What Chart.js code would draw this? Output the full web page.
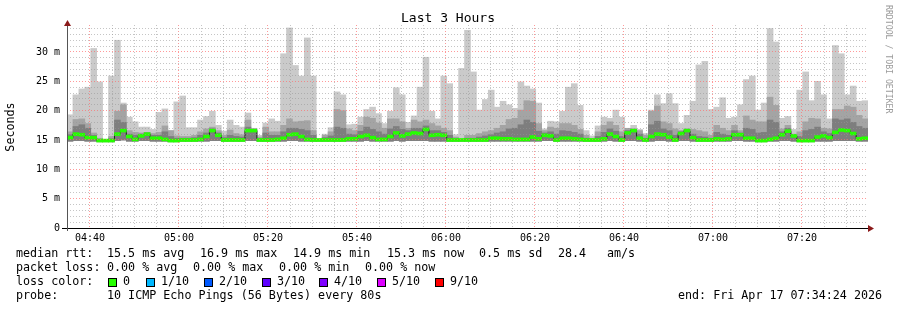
<!DOCTYPE html>
<html>
<head>
<meta charset="utf-8">
<title>Last 3 Hours</title>
<script src="https://cdn.jsdelivr.net/npm/chart.js@4"></script>
<style>
  html, body { margin: 0; padding: 0; background: #fff; }
</style>
</head>
<body>
<canvas id="smoke" width="897" height="310"></canvas>
<script>
// 135 bins of 80 s, first bin starts 04:34:50
const startMinute = 4 * 60 + 34 + 50 / 60;
const stepMinutes = 80 / 60;

// smoke: outermost ping (max), 2nd and 3rd highest pings, lowest ping, median (ms)
const maxMs = [
  19.3, 22.7, 23.7, 24.0, 30.6, 24.9, 15.1, 25.9, 32.0, 21.3,
  18.9, 18.1, 17.2, 17.2, 16.8, 19.7, 20.3, 16.6, 21.5, 22.5,
  17.1, 17.1, 18.4, 19.0, 19.9, 17.5, 16.5, 18.4, 17.5, 17.2,
  19.6, 17.0, 15.8, 17.9, 18.6, 18.2, 29.7, 34.1, 27.7, 25.9,
  32.4, 25.9, 15.2, 16.0, 17.1, 23.2, 22.7, 17.6, 17.7, 18.9,
  20.2, 20.6, 19.5, 17.8, 19.9, 23.9, 22.7, 18.0, 19.1, 24.0,
  29.1, 19.9, 18.6, 25.9, 24.6, 15.9, 27.2, 33.7, 26.6, 20.1,
  21.9, 23.5, 20.6, 21.6, 21.0, 20.4, 24.9, 24.2, 23.7, 21.3,
  16.9, 18.2, 18.1, 19.9, 24.0, 24.6, 20.9, 16.6, 15.7, 17.4,
  18.9, 18.7, 20.1, 18.9, 16.8, 17.5, 16.8, 16.1, 20.1, 22.7,
  21.2, 22.9, 21.2, 17.8, 19.2, 21.6, 27.8, 28.4, 20.2, 20.6,
  22.2, 18.7, 18.9, 21.0, 25.3, 25.9, 20.1, 21.3, 34.0, 31.7,
  18.7, 19.0, 16.8, 23.5, 26.6, 21.7, 25.0, 22.7, 18.6, 31.1,
  29.7, 22.7, 24.2, 21.6, 21.7
];
const p8Ms = [
  16.4, 18.5, 18.6, 17.8, 16.2, 15.3, 15.0, 15.6, 19.9, 21.0,
  16.6, 16.3, 16.2, 16.3, 16.1, 16.3, 17.4, 16.6, 15.7, 15.6,
  15.6, 15.8, 16.4, 16.9, 17.2, 16.6, 15.8, 16.7, 16.1, 15.9,
  18.4, 16.9, 15.5, 17.2, 16.4, 16.4, 17.5, 18.6, 18.1, 18.2,
  18.3, 16.6, 15.2, 15.8, 16.4, 20.2, 20.0, 16.9, 16.6, 17.5,
  18.9, 18.7, 17.9, 17.0, 18.6, 18.6, 18.1, 17.0, 18.4, 18.1,
  18.4, 17.8, 17.4, 17.0, 16.6, 15.5, 15.2, 15.8, 15.8, 16.1,
  16.4, 16.6, 17.0, 17.5, 18.5, 18.7, 20.1, 21.7, 21.6, 17.8,
  16.6, 17.2, 17.0, 17.8, 17.8, 17.5, 16.8, 15.8, 15.3, 16.4,
  17.5, 18.1, 17.5, 16.4, 17.0, 16.9, 16.6, 15.8, 19.9, 20.8,
  18.1, 17.8, 16.9, 16.6, 16.9, 16.8, 16.6, 16.4, 15.8, 17.5,
  17.0, 16.6, 17.5, 16.6, 19.1, 18.4, 18.1, 18.1, 22.3, 20.9,
  16.9, 17.5, 16.0, 16.4, 18.1, 18.7, 18.6, 17.0, 16.9, 20.2,
  20.2, 20.8, 20.6, 19.2, 18.6
];
const p7Ms = [
  15.9, 17.3, 17.6, 17.0, 15.8, 15.1, 14.95, 15.2, 18.4, 18.0,
  16.0, 15.8, 16.0, 16.2, 15.8, 15.8, 16.4, 15.6, 15.3, 15.3,
  15.3, 15.4, 15.8, 16.2, 16.9, 16.2, 15.4, 15.8, 15.6, 15.5,
  17.2, 16.7, 15.2, 16.2, 15.8, 15.8, 16.4, 17.0, 17.0, 16.8,
  16.6, 15.8, 15.1, 15.4, 15.7, 17.2, 17.0, 16.0, 15.9, 16.5,
  17.2, 16.8, 16.4, 16.0, 16.9, 17.3, 16.8, 16.6, 17.0, 17.0,
  17.4, 16.6, 16.6, 16.3, 15.8, 15.2, 15.1, 15.3, 15.3, 15.5,
  15.7, 15.9, 16.2, 16.4, 16.9, 17.0, 17.6, 18.4, 18.0, 16.5,
  16.2, 16.4, 16.0, 16.6, 16.5, 16.3, 16.0, 15.3, 15.1, 15.6,
  16.3, 16.9, 16.5, 15.6, 16.6, 16.8, 16.0, 15.3, 17.6, 18.2,
  16.9, 16.6, 15.8, 16.4, 16.8, 16.0, 15.6, 15.5, 15.3, 16.3,
  16.0, 15.8, 16.6, 16.2, 17.0, 16.8, 16.2, 16.3, 18.4, 18.0,
  16.4, 17.0, 15.85, 15.6, 16.6, 16.8, 17.2, 16.4, 16.1, 18.6,
  18.4, 18.6, 18.0, 17.3, 17.0
];
const minMs = [
  14.8, 14.9, 14.9, 14.8, 14.8, 14.7, 14.7, 14.7, 14.9, 15.0,
  14.8, 14.8, 14.9, 14.9, 14.8, 14.8, 14.8, 14.7, 14.7, 14.8,
  14.8, 14.8, 14.8, 14.8, 14.9, 14.9, 14.8, 14.8, 14.8, 14.8,
  14.9, 14.9, 14.8, 14.8, 14.8, 14.8, 14.8, 14.9, 14.9, 14.8,
  14.8, 14.8, 14.8, 14.8, 14.8, 14.8, 14.8, 14.8, 14.8, 14.8,
  14.9, 14.8, 14.8, 14.8, 14.8, 14.9, 14.8, 14.9, 14.9, 14.9,
  14.9, 14.8, 14.8, 14.8, 14.8, 14.8, 14.8, 14.8, 14.8, 14.8,
  14.8, 14.8, 14.8, 14.8, 14.8, 14.8, 14.8, 14.8, 14.8, 14.8,
  14.9, 14.9, 14.8, 14.8, 14.8, 14.8, 14.8, 14.8, 14.8, 14.8,
  14.8, 14.9, 14.8, 14.8, 14.9, 14.9, 14.8, 14.8, 14.8, 14.9,
  14.9, 14.8, 14.8, 14.9, 14.9, 14.8, 14.8, 14.8, 14.8, 14.8,
  14.8, 14.8, 14.9, 14.9, 14.8, 14.8, 14.7, 14.7, 14.8, 14.8,
  14.9, 14.9, 14.8, 14.7, 14.7, 14.7, 14.8, 14.8, 14.8, 14.9,
  14.9, 14.9, 14.9, 14.8, 14.8
];
const medianMs = [
  15.4, 16.0, 15.9, 15.4, 15.4, 14.9, 14.9, 14.9, 16.0, 16.6,
  15.6, 15.1, 15.7, 16.0, 15.3, 15.3, 15.1, 14.9, 14.9, 15.0,
  15.0, 15.0, 15.1, 15.6, 16.6, 15.8, 15.0, 15.0, 15.0, 15.0,
  16.6, 16.6, 15.0, 15.0, 15.0, 15.1, 15.3, 15.9, 16.0, 15.6,
  15.1, 15.0, 15.0, 15.0, 15.0, 15.0, 15.0, 15.2, 15.2, 15.6,
  15.8, 15.4, 15.1, 15.1, 15.6, 16.2, 15.7, 16.0, 16.2, 16.1,
  16.8, 15.8, 15.9, 15.8, 15.0, 15.0, 15.0, 15.0, 15.0, 15.0,
  15.0, 15.3, 15.3, 15.2, 15.2, 15.1, 15.1, 15.1, 15.5, 15.2,
  15.8, 15.7, 15.0, 15.3, 15.3, 15.2, 15.1, 15.0, 15.0, 15.0,
  15.2, 16.0, 15.6, 15.0, 16.2, 16.6, 15.3, 15.0, 15.6, 16.0,
  15.9, 15.5, 15.0, 16.1, 16.6, 15.4, 15.0, 15.0, 15.0, 15.2,
  15.1, 15.2, 15.9, 15.9, 15.3, 15.3, 14.9, 14.9, 15.1, 15.3,
  15.9, 16.5, 15.7, 14.9, 14.9, 14.9, 15.5, 15.7, 15.4, 16.3,
  16.7, 16.6, 16.1, 15.2, 15.3
];

const yTicks = Array.from({length: 35}, (_, i) => i);
const xTicks = Array.from({length: 36}, (_, i) => 275 + i * 5);

const lossColors = ['#26ff00', '#00b8ff', '#0059ff', '#5e00ff', '#7e00ff', '#dd00ff', '#ff0000'];
const lossLabels = ['0', '1/10', '2/10', '3/10', '4/10', '5/10', '9/10'];

const binTimes = medianMs.map((_, i) => startMinute + (i + 0.5) * stepMinutes);

const mono = "'DejaVu Sans Mono', monospace";
const minorGrid = 'rgba(150,150,150,0.55)';
const majorGrid = 'rgba(255,110,110,0.7)';

const pad2 = (n) => String(n).padStart(2, '0');
const formatTime = (m) => `${pad2(Math.floor(m / 60))}:${pad2(m % 60)}`;

const band = (lo, hi) => binTimes.map((t, i) => ({x: t, y: [lo[i], hi[i]]}));

const smokeLayer = (hi, color, order) => ({
  type: 'bar',
  data: band(minMs, hi),
  backgroundColor: color,
  borderWidth: 0,
  grouped: false,
  barPercentage: 1,
  categoryPercentage: 1,
  order: order
});

const extras = {
  id: 'extras',
  beforeDraw: (chart) => {
    const ctx = chart.ctx;
    ctx.save();
    ctx.fillStyle = '#fff';
    ctx.fillRect(0, 0, chart.width, chart.height);
    ctx.restore();
  },
  afterDraw: (chart) => {
    const ctx = chart.ctx;
    const area = chart.chartArea;
    ctx.save();

    // axes
    ctx.strokeStyle = '#000';
    ctx.lineWidth = 1;
    ctx.beginPath();
    ctx.moveTo(62, area.bottom + 0.5);
    ctx.lineTo(area.right + 1, area.bottom + 0.5);
    ctx.stroke();
    ctx.strokeStyle = '#555';
    ctx.beginPath();
    ctx.moveTo(area.left + 0.5, area.bottom + 3);
    ctx.lineTo(area.left + 0.5, 24);
    ctx.stroke();

    ctx.fillStyle = '#8b1a1a';
    ctx.beginPath();
    ctx.moveTo(area.right, area.bottom - 3);
    ctx.lineTo(area.right + 6, area.bottom + 0.5);
    ctx.lineTo(area.right, area.bottom + 4);
    ctx.fill();
    ctx.beginPath();
    ctx.moveTo(area.left - 3, 26);
    ctx.lineTo(area.left + 0.5, 20);
    ctx.lineTo(area.left + 4, 26);
    ctx.fill();

    // title
    ctx.fillStyle = '#000';
    ctx.textBaseline = 'middle';
    ctx.textAlign = 'center';
    ctx.font = `13px ${mono}`;
    ctx.fillText('Last 3 Hours', 448, 19);

    // y label
    ctx.save();
    ctx.translate(11, 127);
    ctx.rotate(-Math.PI / 2);
    ctx.font = `11.7px ${mono}`;
    ctx.fillText('Seconds', 0, 0);
    ctx.restore();

    // watermark
    ctx.save();
    ctx.translate(888, 5);
    ctx.rotate(Math.PI / 2);
    ctx.textAlign = 'left';
    ctx.fillStyle = '#9a9a9a';
    ctx.font = `8.2px ${mono}`;
    ctx.fillText('RRDTOOL / TOBI OETIKER', 0, 0);
    ctx.restore();

    // legend
    ctx.textAlign = 'left';
    ctx.font = `11.7px ${mono}`;
    const put = (s, x, y) => ctx.fillText(s, x, y);
    put('median rtt:', 16, 254);
    put('15.5 ms avg', 107, 254);
    put('16.9 ms max', 200, 254);
    put('14.9 ms min', 293, 254);
    put('15.3 ms now', 387, 254);
    put('0.5 ms sd', 479, 254);
    put('28.4', 558, 254);
    put('am/s', 607, 254);

    put('packet loss:', 16, 268);
    put('0.00 % avg', 107, 268);
    put('0.00 % max', 193, 268);
    put('0.00 % min', 279, 268);
    put('0.00 % now', 365, 268);

    put('loss color:', 16, 282);
    const boxX = [108, 146, 204, 262, 319, 377, 435];
    lossColors.forEach((c, i) => {
      ctx.fillStyle = c;
      ctx.fillRect(boxX[i], 278, 9, 9);
      ctx.strokeStyle = '#000';
      ctx.strokeRect(boxX[i] + 0.5, 278.5, 8, 8);
      ctx.fillStyle = '#000';
      put(lossLabels[i], boxX[i] + 15, 282);
    });

    put('probe:', 16, 296);
    put('10 ICMP Echo Pings (56 Bytes) every 80s', 107, 296);
    put('end: Fri Apr 17 07:34:24 2026', 678, 296);

    ctx.restore();
  }
};

Chart.defaults.font.family = mono;

new Chart(document.getElementById('smoke'), {
  data: {
    datasets: [
      smokeLayer(maxMs, '#cacaca', 5),
      smokeLayer(p8Ms, '#a4a4a4', 4),
      smokeLayer(p7Ms, '#7e7e7e', 3),
      {
        type: 'line',
        data: binTimes.map((t, i) => ({x: t, y: medianMs[i]})),
        borderColor: '#202020',
        borderWidth: 1,
        pointRadius: 0,
        stepped: 'middle',
        order: 2
      },
      {
        type: 'bar',
        data: binTimes.map((t, i) => ({x: t, y: [medianMs[i] - 0.25, medianMs[i] + 0.25]})),
        backgroundColor: lossColors[0],
        borderWidth: 0,
        grouped: false,
        barPercentage: 1,
        categoryPercentage: 1,
        order: 1
      }
    ]
  },
  options: {
    responsive: false,
    animation: false,
    layout: {padding: {top: 25, right: 29, left: 0, bottom: 0}},
    plugins: {legend: {display: false}, tooltip: {enabled: false}},
    scales: {
      x: {
        type: 'linear',
        offset: false,
        min: startMinute,
        max: startMinute + medianMs.length * stepMinutes,
        afterBuildTicks: (scale) => { scale.ticks = xTicks.map(v => ({value: v})); },
        afterFit: (scale) => { scale.height = 82; },
        ticks: {
          autoSkip: false,
          maxRotation: 0,
          padding: 4,
          color: '#000',
          font: {size: 10},
          callback: (v) => v % 20 === 0 ? formatTime(v) : ''
        },
        grid: {
          z: 1,
          offset: false,
          drawTicks: false,
          color: (c) => c.tick && c.tick.value % 20 === 0 ? majorGrid : minorGrid
        },
        border: {display: false, dash: [1, 2]}
      },
      y: {
        min: 0,
        max: 34.6,
        afterBuildTicks: (scale) => { scale.ticks = yTicks.map(v => ({value: v})); },
        afterFit: (scale) => { scale.width = 67; },
        ticks: {
          autoSkip: false,
          padding: 7,
          color: '#000',
          font: {size: 10},
          callback: (v) => v % 5 === 0 ? (v === 0 ? '0' : `${v} m`) : ''
        },
        grid: {
          z: 1,
          drawTicks: false,
          color: (c) => !c.tick || c.tick.value === 0 ? 'rgba(0,0,0,0)' : (c.tick.value % 5 === 0 ? majorGrid : minorGrid)
        },
        border: {display: false, dash: [1, 2]}
      }
    }
  },
  plugins: [extras]
});
</script>
</body>
</html>
